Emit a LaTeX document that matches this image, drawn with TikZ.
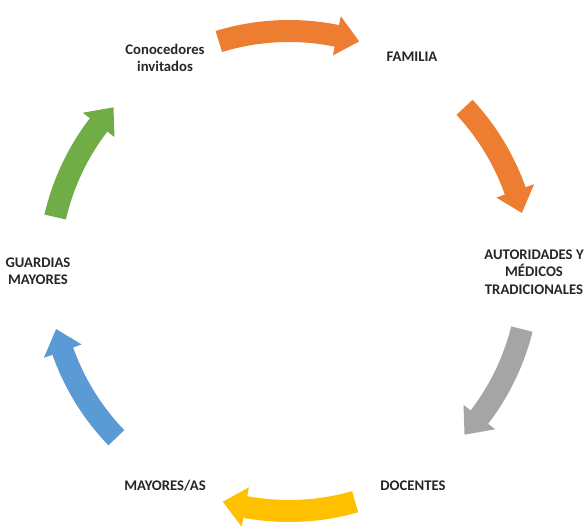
\documentclass[tikz,border=0pt]{standalone}
\usepackage{fontspec}
\setmainfont{Carlito}
\usetikzlibrary{calc}
\definecolor{cyorange}{HTML}{ED7D31}
\definecolor{cygray}{HTML}{A5A5A5}
\definecolor{cyyellow}{HTML}{FFC000}
\definecolor{cyblue}{HTML}{5B9BD5}
\definecolor{cygreen}{HTML}{70AD47}
\definecolor{cytext}{HTML}{262626}
% colour, angle of the tail, angle of the tip
\newcommand{\cyclearrow}[3]{%
  \fill[#1] (#2:251) arc[start angle=#2, end angle=#3+5.5, radius=251]
    -- (#3+5.5:260) -- (#3:240) -- (#3+5.5:220) -- (#3+5.5:229)
    arc[start angle=#3+5.5, end angle=#2, radius=229] -- cycle;}
\tikzset{steplabel/.style={align=center, text=cytext, inner sep=1pt,
  font=\fontsize{14.7}{17.5}\selectfont\bfseries}}

\begin{document}
\begin{tikzpicture}[x=1pt,y=1pt]
    \useasboundingbox (-289,-259) rectangle (297,271);
    \coordinate (c) at (0,0);

    \node[steplabel] (conocedores) at (-124, 213) {Conocedores\\invitados};
    \node[steplabel] (familia) at (123, 214) {FAMILIA};
    \node[steplabel] (autoridades) at (245, -1) {AUTORIDADES Y\\MÉDICOS\\TRADICIONALES};
    \node[steplabel] (docentes) at (124, -215) {DOCENTES};
    \node[steplabel] (mayores) at (-124, -215) {MAYORES/AS};
    \node[steplabel] (guardias) at (-251, 0) {GUARDIAS\\MAYORES};

    \cyclearrow{cyorange}{107}{73}
    \cyclearrow{cyorange}{43}{14}
    \cyclearrow{cygray}{-14}{-43}
    \cyclearrow{cyyellow}{-74}{-106}
    \cyclearrow{cyblue}{-136}{-166}
    \cyclearrow{cygreen}{167}{137}
  \end{tikzpicture}
\end{document}
